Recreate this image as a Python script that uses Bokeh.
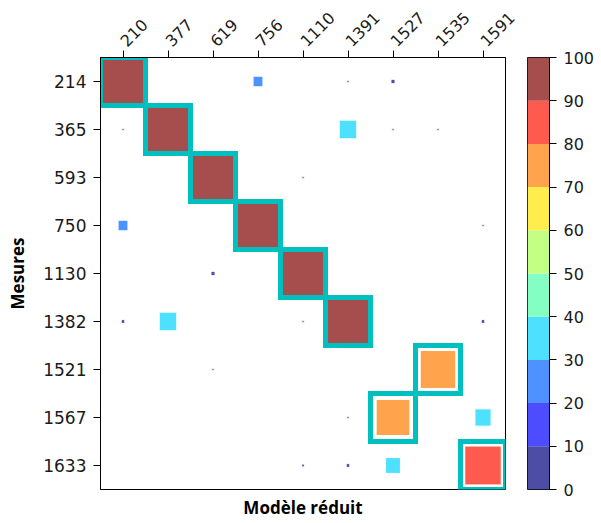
import numpy as np
from bokeh.plotting import figure
from bokeh.layouts import row
from bokeh.models import Range1d, FixedTicker, LinearAxis, ColumnDataSource, LinearColorMapper
from bokeh.transform import transform
from bokeh.embed import file_html
from bokeh.resources import INLINE

# ---------------- data ----------------
model_labels = ["210", "377", "619", "756", "1110", "1391", "1527", "1535", "1591"]
measure_labels = ["214", "365", "593", "750", "1130", "1382", "1521", "1567", "1633"]
# rows = measures (top to bottom), columns = reduced-model modes
match_values = [
    [100, 0, 0, 22, 0, 5, 9, 0, 0],
    [5, 100, 0, 0, 0, 39, 5, 5, 0],
    [0, 0, 100, 0, 5, 0, 0, 0, 0],
    [22, 0, 0, 100, 0, 0, 0, 0, 5],
    [0, 0, 9, 0, 100, 0, 0, 0, 0],
    [8, 39, 0, 0, 5, 100, 0, 0, 8],
    [0, 0, 5, 0, 0, 0, 0, 79, 0],
    [0, 0, 0, 0, 0, 5, 75, 0, 36],
    [0, 0, 0, 0, 6, 8, 33, 0, 81],
]
matched_cols = [0, 1, 2, 3, 4, 5, 7, 6, 8]
cbar_levels = [0, 10, 20, 30, 40, 50, 60, 70, 80, 90, 100]

# ---------------- colours (jet, 10 levels, alpha 0.7 on white) ----------------
def jet(t):
    r = np.interp(t, [0, 0.35, 0.66, 0.89, 1], [0, 0, 1, 1, 0.5])
    g = np.interp(t, [0, 0.125, 0.375, 0.64, 0.91, 1], [0, 0, 1, 1, 0, 0])
    b = np.interp(t, [0, 0.11, 0.34, 0.65, 1], [0.5, 1, 1, 0, 0])
    return r, g, b

n_bins = len(cbar_levels) - 1
palette = []
for k in range(n_bins):
    rgb = jet(k / (n_bins - 1))
    a = 0.7
    c = [int(round(255 * (a * v + 1 - a))) for v in rgb]
    palette.append("#%02x%02x%02x" % tuple(c))

mapper = LinearColorMapper(palette=palette, low=cbar_levels[0], high=cbar_levels[-1])

xs, ys, vs, ws = [], [], [], []
for i, r in enumerate(match_values):
    for j, v in enumerate(r):
        if v > 0:
            xs.append(j); ys.append(i); vs.append(v); ws.append(v / 100.0)
src = ColumnDataSource(dict(x=xs, y=ys, v=vs, w=ws))

TICK_FONT = "DejaVu Sans"
LABEL_FONT = "Open Sans"
TOP = 57
FH = 432

p = figure(frame_width=405, frame_height=FH,
           x_range=Range1d(-0.5, 8.5), y_range=Range1d(8.5, -0.5),
           x_axis_location="above", toolbar_location=None, output_backend="svg",
           min_border_left=100, min_border_top=TOP, min_border_right=22, min_border_bottom=0)
p.grid.visible = False
p.outline_line_color = "black"
p.outline_line_width = 1
p.background_fill_color = "white"

p.rect(x="x", y="y", width="w", height="w", source=src,
       fill_color=transform("v", mapper), line_color="white", line_width=1)
p.rect(x=matched_cols, y=list(range(len(measure_labels))), width=1, height=1,
       fill_color=None, line_color="#00bfbf", line_width=5, line_join="miter")

for ax in (p.xaxis[0], p.yaxis[0]):
    ax.major_tick_out = 7
    ax.major_tick_in = 0
    ax.minor_tick_line_color = None
    ax.axis_line_color = "black"
    ax.major_tick_line_color = "black"
    ax.major_label_text_font = TICK_FONT
    ax.major_label_text_color = "#1a1a1a"

p.xaxis.ticker = FixedTicker(ticks=list(range(len(model_labels))))
p.xaxis.major_label_overrides = {i: s for i, s in enumerate(model_labels)}
p.xaxis.major_label_orientation = np.pi / 4
p.xaxis.major_label_standoff = 7
p.xaxis.major_label_text_font_size = "16px"

p.yaxis.ticker = FixedTicker(ticks=list(range(len(measure_labels))))
p.yaxis.major_label_overrides = {i: s for i, s in enumerate(measure_labels)}
p.yaxis.major_label_standoff = 7
p.yaxis.major_label_text_font_size = "17px"
p.yaxis.axis_label = "Mesures"
p.yaxis.axis_label_text_font = LABEL_FONT
p.yaxis.axis_label_text_font_style = "bold"
p.yaxis.axis_label_text_font_size = "17px"
p.yaxis.axis_label_text_color = "black"
p.yaxis.axis_label_standoff = 11

bottom = LinearAxis(ticker=FixedTicker(ticks=[]), axis_line_color=None,
                    major_tick_line_color=None, minor_tick_line_color=None,
                    major_label_text_font_size="0px", major_label_standoff=0,
                    major_tick_out=0, axis_label="Modèle réduit",
                    axis_label_text_font=LABEL_FONT, axis_label_text_font_style="bold",
                    axis_label_text_font_size="17px", axis_label_text_color="black",
                    axis_label_standoff=6)
p.add_layout(bottom, "below")

# ---------------- colour bar ----------------
pc = figure(frame_width=22, frame_height=FH,
            x_range=Range1d(0, 1), y_range=Range1d(cbar_levels[0], cbar_levels[-1]),
            x_axis_location=None, y_axis_location="right",
            toolbar_location=None, output_backend="svg",
            min_border_left=0, min_border_right=0, min_border_top=TOP, min_border_bottom=14)
pc.grid.visible = False
pc.outline_line_color = "black"
pc.quad(left=0, right=1, bottom=cbar_levels[:-1], top=cbar_levels[1:],
        fill_color=palette, line_color=None)
ay = pc.yaxis[0]
ay.ticker = FixedTicker(ticks=cbar_levels)
ay.major_tick_out = 7
ay.major_tick_in = 0
ay.minor_tick_line_color = None
ay.axis_line_color = "black"
ay.major_label_standoff = 7
ay.major_label_text_font = TICK_FONT
ay.major_label_text_font_size = "16px"
ay.major_label_text_color = "#1a1a1a"

layout = row(p, pc)
open("out.html", "w").write(file_html(layout, INLINE))
